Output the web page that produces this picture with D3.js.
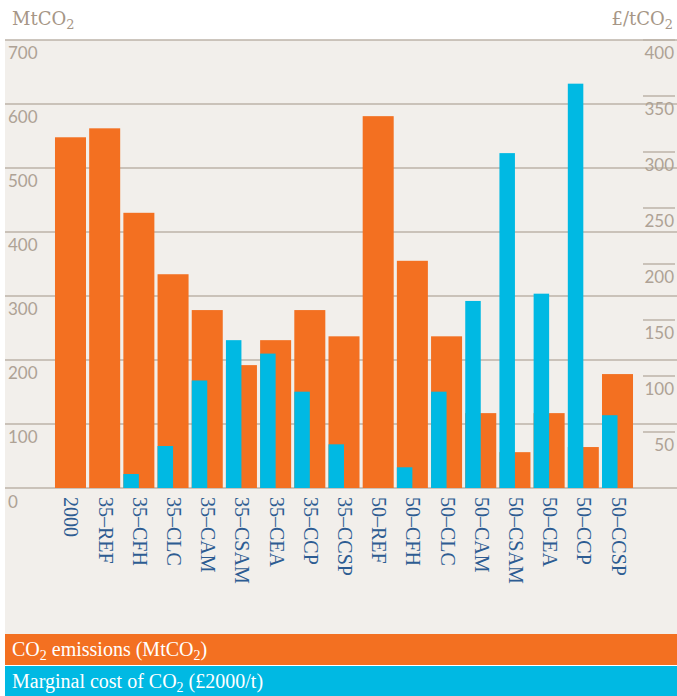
<!DOCTYPE html>
<html>
<head>
<meta charset="utf-8">
<script src="https://cdn.jsdelivr.net/npm/d3@7"></script>
<style>
  body { margin: 0; background: #fff; }
  svg { display: block; }
</style>
</head>
<body>
<svg id="chart" width="677" height="696"></svg>
<script>
// scenarios along the x axis
var categories = ['2000', '35–REF', '35–CFH', '35–CLC', '35–CAM', '35–CSAM', '35–CEA', '35–CCP', '35–CCSP',
                  '50–REF', '50–CFH', '50–CLC', '50–CAM', '50–CSAM', '50–CEA', '50–CCP', '50–CCSP'];
// CO2 emissions, MtCO2 (left axis)
var emissions = [548, 562, 430, 334, 278, 192, 231, 278, 237, 581, 355, 237, 117, 56, 117, 64, 178];
// marginal cost of CO2, £2000/t (right axis)
var marginalCost = [0, 0, 12.5, 37.5, 96, 132, 120, 86, 39, 0, 18.5, 86, 167, 299, 173.5, 361, 65];

var leftTicks = [0, 100, 200, 300, 400, 500, 600, 700];
var rightTicks = [50, 100, 150, 200, 250, 300, 350, 400];

var orange = '#f37021', cyan = '#00b9e3', panel = '#f2efeb',
    grid = '#bdb3a9', tickText = '#aea295', catText = '#2d5c92';

var svg = d3.select('#chart');
var W = 677;
var plotTop = 40, plotBottom = 488;

var yLeft = d3.scaleLinear().domain([0, 700]).range([plotBottom, plotTop]);
var yRight = d3.scaleLinear().domain([0, 400]).range([plotBottom, plotTop]);
var x = d3.scaleBand().domain(categories).range([53.4, 634.6]).paddingInner(0.093).paddingOuter(0.0465);

// panel background
svg.append('rect').attr('x', 5).attr('y', plotTop).attr('width', W - 5).attr('height', 634 - plotTop).attr('fill', panel);

// headers
function sub(sel, a, b) {
  sel.append('tspan').text(a);
  sel.append('tspan').attr('font-size', '0.72em').attr('dy', 4).text(b);
}
sub(svg.append('text').attr('x', 12).attr('y', 25).attr('fill', '#a69686')
  .attr('font-family', 'DejaVu Serif').attr('font-size', 18), 'MtCO', '2');
sub(svg.append('text').attr('x', 673).attr('y', 25).attr('text-anchor', 'end').attr('fill', '#a69686')
  .attr('font-family', 'DejaVu Serif').attr('font-size', 18), '£/tCO', '2');

// left axis: gridlines across the panel with labels below
var gl = svg.append('g').selectAll('g').data(leftTicks).enter().append('g')
  .attr('transform', function(d) { return 'translate(0,' + yLeft(d) + ')'; });
gl.append('line').attr('x1', 5).attr('x2', W).attr('stroke', grid).attr('stroke-width', 1.5);
gl.append('text').attr('x', 8).attr('y', function(d) { return d === 0 ? 20 : 19; })
  .attr('fill', tickText).attr('font-family', 'Lato').attr('font-size', 17).text(function(d) { return d; });

// right axis: short tick lines with labels below
var gr = svg.append('g').selectAll('g').data(rightTicks).enter().append('g')
  .attr('transform', function(d) { return 'translate(0,' + yRight(d) + ')'; });
gr.append('line').attr('x1', 643).attr('x2', 675).attr('stroke', grid).attr('stroke-width', 1.5);
gr.append('text').attr('x', 674).attr('y', 19).attr('text-anchor', 'end')
  .attr('fill', tickText).attr('font-family', 'Lato').attr('font-size', 17).text(function(d) { return d; });

// bars: orange full width, cyan half width on top
var bars = svg.append('g');
bars.selectAll('rect.em').data(categories).enter().append('rect').attr('class', 'em')
  .attr('x', function(d) { return x(d); })
  .attr('width', x.bandwidth())
  .attr('y', function(d, i) { return yLeft(emissions[i]); })
  .attr('height', function(d, i) { return plotBottom - yLeft(emissions[i]); })
  .attr('fill', orange);
bars.selectAll('rect.mc').data(categories).enter().append('rect').attr('class', 'mc')
  .attr('x', function(d) { return x(d); })
  .attr('width', x.bandwidth() / 2)
  .attr('y', function(d, i) { return yRight(marginalCost[i]); })
  .attr('height', function(d, i) { return plotBottom - yRight(marginalCost[i]); })
  .attr('fill', cyan);

// category labels, rotated
svg.append('g').selectAll('text').data(categories).enter().append('text')
  .attr('transform', function(d) { return 'translate(' + (x(d) + x.bandwidth() / 2 - 6) + ',497) rotate(90)'; })
  .attr('fill', catText).attr('font-family', 'Liberation Serif').attr('font-size', 20)
  .text(function(d) { return d; });

// legend bands
var legend = [
  { color: orange, y: 634, h: 31, parts: ['CO', '2', ' emissions (MtCO', '2', ')'] },
  { color: cyan, y: 666, h: 30, parts: ['Marginal cost of CO', '2', ' (£2000/t)'] }
];
legend.forEach(function(l) {
  svg.append('rect').attr('x', 5).attr('y', l.y).attr('width', W - 5).attr('height', l.h).attr('fill', l.color);
  var t = svg.append('text').attr('x', 12).attr('y', l.y + 22).attr('fill', '#fff')
    .attr('font-family', 'Liberation Serif').attr('font-size', 20);
  l.parts.forEach(function(p, i) {
    var isSub = i % 2 === 1;
    t.append('tspan').attr('font-size', isSub ? 14 : 20).attr('dy', isSub ? 4 : (i > 0 ? -4 : 0)).text(p);
  });
});
</script>
</body>
</html>
